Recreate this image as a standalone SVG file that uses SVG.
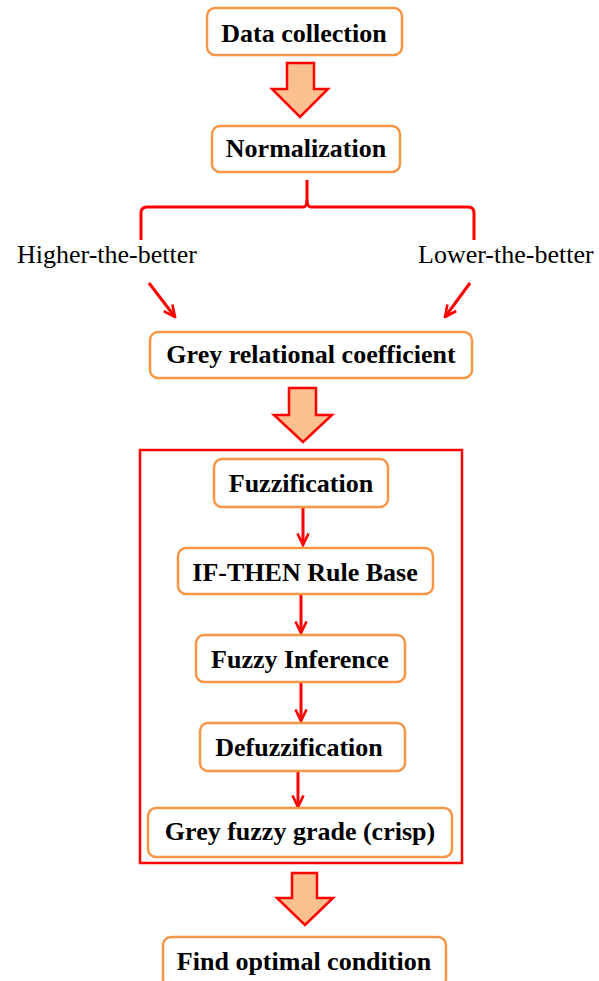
<svg xmlns="http://www.w3.org/2000/svg" width="599" height="981" viewBox="0 0 599 981">
<style>
.box{fill:#fff;stroke:#F79646;stroke-width:2.5}
.t{font-family:"Liberation Serif","Times New Roman",serif;font-weight:bold;font-size:26px;fill:#000;text-anchor:middle}
.r{font-family:"Liberation Serif","Times New Roman",serif;font-size:26px;fill:#000}
.blk{fill:#FAC090;stroke:#FF0000;stroke-width:2.5;stroke-linejoin:miter}
.ln{fill:none;stroke:#FF0000;stroke-width:3}
</style>
<defs>
<marker id="ah" viewBox="0 0 14 14" refX="12.5" refY="7" markerWidth="14" markerHeight="14" markerUnits="userSpaceOnUse" orient="auto">
<path d="M1,1.5 L12.5,7 L1,12.5" fill="none" stroke="#FF0000" stroke-width="2.6"/>
</marker>
</defs>
<g id="frame"><rect x="140" y="450" width="322" height="413" fill="none" stroke="#FF0000" stroke-width="2.5"/></g>
<g id="connectors">
<path class="blk" d="M287,63 H314 V89 H328 L300,117 L272,89 H287 Z"/>
<path class="blk" d="M289,388 H316 V415 H332 L303,442 L274,415 H289 Z"/>
<path class="blk" d="M292,873 H317 V898 H333 L305,925 L277,898 H292 Z"/>
<path class="ln" d="M307,180 V200 Q307,207 303,207 H147 Q141,207 141,213 V240"/>
<path class="ln" d="M307,200 Q307,207 311,207 H468 Q474,207 474,213 V240"/>
<line class="ln" x1="149" y1="283" x2="175" y2="317" marker-end="url(#ah)"/>
<line class="ln" x1="470" y1="283" x2="445" y2="317" marker-end="url(#ah)"/>
<line class="ln" x1="303" y1="507" x2="303" y2="545" marker-end="url(#ah)"/>
<line class="ln" x1="301" y1="594" x2="301" y2="633" marker-end="url(#ah)"/>
<line class="ln" x1="301" y1="682" x2="301" y2="721" marker-end="url(#ah)"/>
<line class="ln" x1="298" y1="771" x2="298" y2="807" marker-end="url(#ah)"/>
</g>
<g id="n1"><rect class="box" x="207" y="8" width="195" height="47" rx="8"/><text class="t" x="304" y="42">Data collection</text></g>
<g id="n2"><rect class="box" x="212" y="126" width="188" height="46" rx="8"/><text class="t" x="306" y="157">Normalization</text></g>
<g id="l1"><text class="r" x="17" y="263">Higher-the-better</text></g>
<g id="l2"><text class="r" x="418" y="263">Lower-the-better</text></g>
<g id="n3"><rect class="box" x="150" y="332" width="322" height="46" rx="8"/><text class="t" x="311" y="363">Grey relational coefficient</text></g>
<g id="n4"><rect class="box" x="214" y="459" width="174" height="48" rx="8"/><text class="t" x="301" y="492">Fuzzification</text></g>
<g id="n5"><rect class="box" x="178" y="548" width="255" height="46" rx="8"/><text class="t" x="305" y="581">IF-THEN Rule Base</text></g>
<g id="n6"><rect class="box" x="196" y="635" width="209" height="47" rx="8"/><text class="t" x="300" y="668">Fuzzy Inference</text></g>
<g id="n7"><rect class="box" x="200" y="723" width="205" height="48" rx="8"/><text class="t" x="299" y="756">Defuzzification</text></g>
<g id="n8"><rect class="box" x="148" y="808" width="304" height="49" rx="8"/><text class="t" x="300" y="840">Grey fuzzy grade (crisp)</text></g>
<g id="n9"><rect class="box" x="163" y="937" width="283" height="50" rx="8"/><text class="t" x="304" y="970">Find optimal condition</text></g>
</svg>
